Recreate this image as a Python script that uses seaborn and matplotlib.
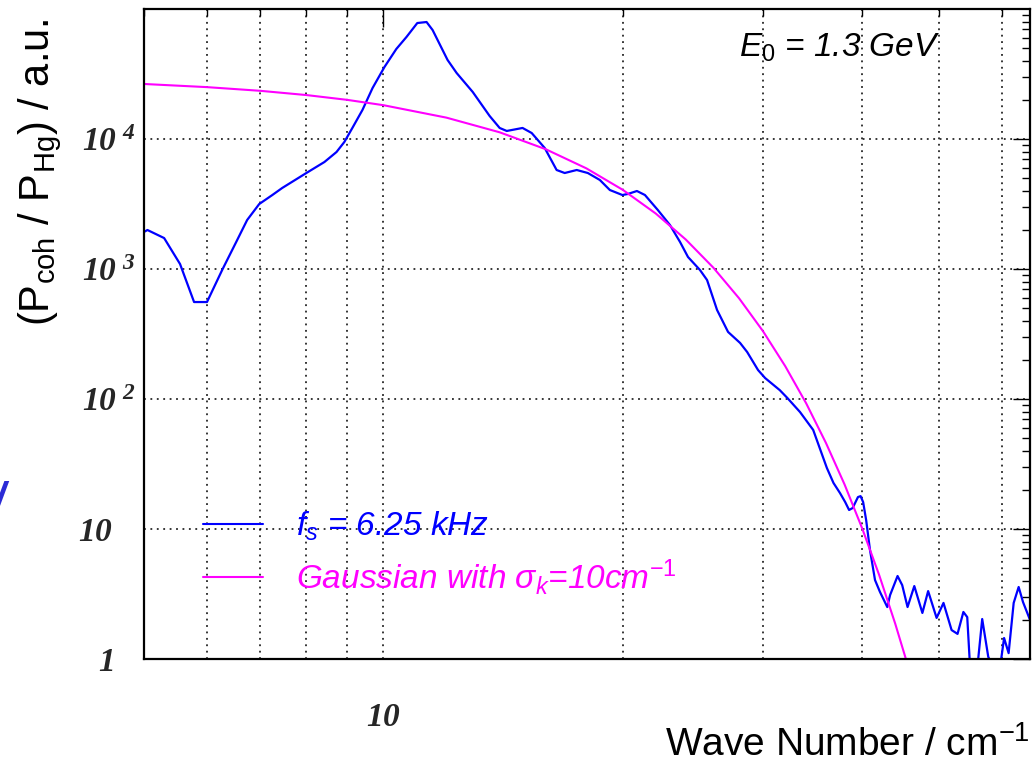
import numpy as np
import pandas as pd
import matplotlib
matplotlib.use("Agg")
import matplotlib.pyplot as plt
import matplotlib.transforms as mtransforms
import seaborn as sns
from matplotlib.ticker import FixedLocator, FixedFormatter, NullFormatter, LogLocator

# ---------------- data ----------------
wave_number_meas = [5.00, 5.05, 5.30, 5.55, 5.78, 6.00, 6.27, 6.53, 6.74, 6.98,
                    7.25, 7.46, 8.00, 8.43, 8.73, 8.93, 9.14, 9.41, 9.69, 10.03,
                    10.38, 10.69, 11.03, 11.33, 11.53, 12.04, 12.36, 12.95, 13.6, 14.0,
                    14.29, 14.96, 15.36, 15.95, 16.51, 16.9, 17.5, 18.07, 18.71, 19.26,
                    19.97, 20.29, 20.83, 21.32, 22.13, 22.92, 23.6, 24.15, 25.0, 25.52,
                    26.27, 27.12, 28.08, 28.66, 29.58, 30.19, 31.5, 32.2, 33.4, 34.7,
                    36.1, 36.8, 37.5, 38.07, 38.5, 38.9, 39.5, 39.8, 40.1, 40.45,
                    40.9, 41.5, 42.1, 43.0, 43.35, 44.3, 44.9, 45.6, 46.5, 47.6,
                    48.4, 49.6, 50.6, 51.8, 52.7, 53.6, 54.2, 54.6, 55.8, 56.6,
                    57.6, 58.5, 59.8, 60.3, 61.1, 62.0, 62.9, 63.7, 65.0]
power_meas = [1927, 1995, 1730, 1092, 557, 557, 983, 1614, 2382, 3162,
              3708, 4200, 5475, 6654, 7943, 9484, 12160, 16710, 24660, 35800,
              49250, 60930, 78000, 79400, 68900, 40550, 32200, 23000, 15030, 12160,
              11530, 12160, 11120, 8530, 5775, 5475, 5775, 5475, 4840, 4052,
              3708, 3776, 3981, 3708, 2843, 2180, 1614, 1237, 983, 823,
              484, 328, 270, 230, 167, 145, 117, 101.8, 79.4, 57.8,
              29.5, 22.6, 18.9, 16.1, 14.0, 14.5, 17.6, 17.9, 16.1, 11.7,
              6.9, 4.05, 3.28, 2.51, 3.1, 4.35, 3.7, 2.51, 3.64, 2.26,
              3.33, 2.07, 2.7, 1.67, 1.56, 2.3, 2.1, 0.95, 0.85, 2.03,
              1.04, 0.85, 1.0, 1.45, 1.11, 2.7, 3.58, 2.74, 2.0]

wave_number_gauss = [5, 6, 7, 8, 9, 10, 12, 14, 16, 18, 20, 22, 24, 26, 28,
                     30, 32, 34, 36, 38, 40, 42, 44, 46]
power_gauss = [26500, 25060, 23480, 21780, 20010, 18200, 14600, 11260, 8340, 5940,
               4060, 2670, 1684, 1021, 595, 333, 179, 92.7, 46.0, 22.0,
               10.06, 4.43, 1.87, 0.76]

series_labels = [r"$f_s$ = 6.25 kHz", r"Gaussian with $\sigma_k$=10cm$^{-1}$"]
y_tick_values = [1, 10, 100, 1000, 10000]
y_tick_labels = [r"$\mathbf{1}$", r"$\mathbf{10}$", r"$\mathbf{10^{\ 2}}$",
                 r"$\mathbf{10^{\ 3}}$", r"$\mathbf{10^{\ 4}}$"]
x_tick_values = [10]
x_tick_labels = [r"$\mathbf{10}$"]
energy_text = r"$E_{\mathit{0}}$ = 1.3 GeV"

# ---------------- style ----------------
sns.set_theme(style="white")
plt.rcParams["font.family"] = ["Liberation Sans", "DejaVu Sans"]
plt.rcParams["mathtext.fontset"] = "custom"
plt.rcParams["mathtext.rm"] = "Liberation Sans"
plt.rcParams["mathtext.it"] = "Liberation Sans:italic"
plt.rcParams["mathtext.bf"] = "Liberation Serif:bold:italic"
plt.rcParams["mathtext.sf"] = "Liberation Sans"

W, H = 1036, 766
fig = plt.figure(figsize=(W / 100, H / 100), dpi=100)
ax = fig.add_axes([144 / W, 1 - 659 / H, (1030 - 144) / W, (659 - 9) / H])

df_meas = pd.DataFrame({"k": wave_number_meas, "P": power_meas})
df_gauss = pd.DataFrame({"k": wave_number_gauss, "P": power_gauss})

sns.lineplot(data=df_meas, x="k", y="P", ax=ax, color="#0000ff", lw=1.6,
             sort=False, estimator=None, label=series_labels[0])
sns.lineplot(data=df_gauss, x="k", y="P", ax=ax, color="#ff00ff", lw=1.5,
             sort=False, estimator=None, label=series_labels[1])

ax.set_xscale("log")
ax.set_yscale("log")
ax.set_xlim(5, 65)
ax.set_ylim(1, 1e5)

# ticks
ax.xaxis.set_major_locator(FixedLocator(x_tick_values))
ax.xaxis.set_major_formatter(FixedFormatter(x_tick_labels))
ax.xaxis.set_minor_locator(LogLocator(base=10, subs=np.arange(2, 10)))
ax.xaxis.set_minor_formatter(NullFormatter())
ax.yaxis.set_major_locator(FixedLocator(y_tick_values))
ax.yaxis.set_major_formatter(FixedFormatter(y_tick_labels))
ax.yaxis.set_minor_locator(LogLocator(base=10, subs=np.arange(2, 10)))
ax.yaxis.set_minor_formatter(NullFormatter())

ax.tick_params(which="both", direction="in", top=True, right=True,
               color="black", width=1.0)
ax.tick_params(axis="y", which="major", length=12, pad=6.5, labelsize=24)
ax.tick_params(axis="y", which="minor", length=6)
ax.tick_params(axis="x", which="major", length=13, pad=31, labelsize=24)
ax.tick_params(axis="x", which="minor", length=5)

# grid
grid_kw = dict(color="black", linestyle=(0, (1.2, 3.0)), linewidth=1.1)
ax.grid(False)
ax.grid(True, which="major", axis="both", **grid_kw)
ax.grid(True, which="minor", axis="x", **grid_kw)

for s in ax.spines.values():
    s.set_color("black")
    s.set_linewidth(1.6)
    s.set_visible(True)

# axis labels
ax.set_xlabel(r"Wave Number / cm$^{-1}$", fontsize=28, color="black")
ax.xaxis.set_label_coords(1.0, (659 - 745) / 650)
ax.xaxis.label.set_ha("right")
ax.xaxis.label.set_va("center")

ax.set_ylabel(r"(P$_{\mathrm{coh}}$ / P$_{\mathrm{Hg}}$) / a.u.", fontsize=30, color="black")
ax.yaxis.set_label_coords((40 - 144) / 886, (659 - 18) / 650)
ax.yaxis.label.set_rotation_mode("anchor")
ax.yaxis.label.set_ha("right")
ax.yaxis.label.set_va("center")

# annotation
ax.text((940 - 144) / 886, (659 - 57) / 650, energy_text, transform=ax.transAxes,
        ha="right", va="baseline", fontsize=24, style="italic", color="black")

# legend
leg = ax.legend(loc="upper left", bbox_to_anchor=((203 - 144) / 886, (659 - 510) / 650),
                frameon=False, borderpad=0, borderaxespad=0, handlelength=1.8,
                handletextpad=1.0, labelspacing=0.42,
                prop={"size": 24, "style": "italic"}, labelcolor="linecolor")
for line in leg.get_lines():
    line.set_linewidth(1.5)

# cropped glyph at the left edge of the source image
fig.text(-6 / W, 1 - 512 / H, "/", fontsize=30, color="#2b2bd6",
         fontweight="bold", style="italic", ha="left", va="baseline")

# shift labels without exponent so that their base aligns with "10" of 10^n
fig.canvas.draw()
shift = mtransforms.ScaledTranslation(-22 / 100, 0, fig.dpi_scale_trans)
for tick in ax.yaxis.get_major_ticks():
    if tick.get_loc() in (1, 10):
        tick.label1.set_transform(tick.label1.get_transform() + shift)

fig.savefig("out.png", dpi=100)
